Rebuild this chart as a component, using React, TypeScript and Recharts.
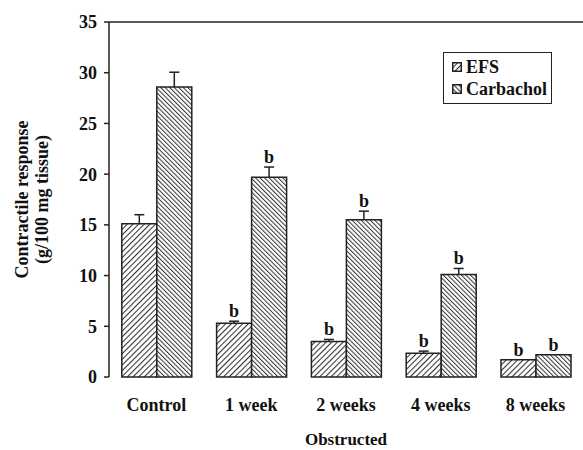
import React from 'react';
import { BarChart, Bar, XAxis, YAxis, ReferenceLine, LabelList, Legend } from 'recharts';

const categories = ['Control', '1 week', '2 weeks', '4 weeks', '8 weeks'];
const efsValues = [15.1, 5.3, 3.5, 2.35, 1.7];
const efsErrors = [0.9, 0.2, 0.2, 0.2, 0];
const carbacholValues = [28.6, 19.7, 15.5, 10.1, 2.2];
const carbacholErrors = [1.45, 1.0, 0.85, 0.6, 0];
const efsSig = ['', 'b', 'b', 'b', 'b'];
const carbacholSig = ['', 'b', 'b', 'b', 'b'];
const yTicks = [0, 5, 10, 15, 20, 25, 30, 35];
const boundaryTicks = [0, 1, 2, 3, 4, 5];

const data = categories.map((c, i) => ({
  name: c,
  efs: efsValues[i],
  efsErr: efsErrors[i],
  carb: carbacholValues[i],
  carbErr: carbacholErrors[i],
  efsSig: efsSig[i],
  carbSig: carbacholSig[i],
}));

const FONT = '"Liberation Serif", "Times New Roman", serif';
const INK = '#222';

const ErrShape = (props: any) => {
  const { x, y, width, height } = props;
  if (!height || height <= 0.5) return <g />;
  const cx = x + width / 2;
  return (
    <g>
      <line x1={cx} y1={y} x2={cx} y2={y + height} stroke={INK} strokeWidth={1.5} />
      <line x1={cx - 5} y1={y} x2={cx + 5} y2={y} stroke={INK} strokeWidth={1.5} />
    </g>
  );
};

const YLabel = (props: any) => {
  const vb = props.viewBox || {};
  const cy = vb.y + vb.height / 2;
  const x1 = 22;
  const x2 = 42;
  return (
    <g fontFamily={FONT} fontWeight="bold" fontSize={18} fill="#111">
      <text x={x1} y={cy} textAnchor="middle" dominantBaseline="central" transform={`rotate(-90, ${x1}, ${cy})`}>
        Contractile response
      </text>
      <text x={x2} y={cy} textAnchor="middle" dominantBaseline="central" transform={`rotate(-90, ${x2}, ${cy})`}>
        (g/100 mg tissue)
      </text>
    </g>
  );
};

const LegendBox = () => (
  <div
    style={{
      border: `1.5px solid ${INK}`,
      padding: '3px 4px 3px 8px',
      fontFamily: FONT,
      fontWeight: 'bold',
      fontSize: 18,
      color: '#111',
      background: '#fff',
      lineHeight: '22px',
    }}
  >
    {[
      { label: 'EFS', fill: 'url(#hatchEFSsmall)' },
      { label: 'Carbachol', fill: 'url(#hatchCarbSmall)' },
    ].map((it) => (
      <div key={it.label} style={{ display: 'flex', alignItems: 'center' }}>
        <svg width={10} height={10} style={{ marginRight: 4 }}>
          <rect x={0.75} y={0.75} width={8.5} height={8.5} fill={it.fill} stroke={INK} strokeWidth={1.5} />
        </svg>
        <span>{it.label}</span>
      </div>
    ))}
  </div>
);

export default function App() {
  return (
    <div style={{ position: 'absolute', left: 0, top: 0, width: 583, height: 450, background: '#fff' }}>
      <BarChart
        width={583}
        height={450}
        data={data}
        margin={{ top: 22, right: 0, left: 0, bottom: 0 }}
        barCategoryGap="13.5%"
        barGap={0}
      >
        <defs>
          <pattern id="hatchEFS" patternUnits="userSpaceOnUse" width={4} height={4} patternTransform="rotate(45)">
            <rect width={4} height={4} fill="#fff" />
            <line x1={0.5} y1={0} x2={0.5} y2={4} stroke="#333" strokeWidth={1.1} />
          </pattern>
          <pattern id="hatchCarb" patternUnits="userSpaceOnUse" width={3.2} height={3.2} patternTransform="rotate(-45)">
            <rect width={3.2} height={3.2} fill="#fff" />
            <line x1={0.5} y1={0} x2={0.5} y2={3.2} stroke="#333" strokeWidth={1} />
          </pattern>
        </defs>
        <ReferenceLine y={35} stroke={INK} strokeWidth={1.5} ifOverflow="extendDomain" />
        <XAxis
          xAxisId="bounds"
          type="number"
          domain={[0, 5]}
          ticks={boundaryTicks}
          height={0}
          tick={false}
          tickSize={5}
          axisLine={{ stroke: INK, strokeWidth: 1.5 }}
          tickLine={{ stroke: INK, strokeWidth: 1.5 }}
          allowDataOverflow
        />
        <XAxis
          dataKey="name"
          height={73}
          tickLine={false}
          axisLine={false}
          tickSize={0}
          tickMargin={21}
          tick={{ fontFamily: FONT, fontWeight: 'bold', fontSize: 18, fill: '#111' }}
          label={{
            value: 'Obstructed',
            position: 'insideBottom',
            offset: 5,
            style: { fontFamily: FONT, fontWeight: 'bold', fontSize: 17, fill: '#111' },
          }}
        />
        <YAxis
          width={109}
          domain={[0, 35]}
          ticks={yTicks}
          tickSize={5}
          tickMargin={7}
          interval={0}
          axisLine={{ stroke: INK, strokeWidth: 1.5 }}
          tickLine={{ stroke: INK, strokeWidth: 1.5 }}
          tick={{ fontFamily: FONT, fontWeight: 'bold', fontSize: 18, fill: '#111' }}
          label={{ content: <YLabel /> }}
        />
        <Legend
          layout="horizontal"
          align="center"
          verticalAlign="middle"
          wrapperStyle={{ position: 'absolute', left: 443, top: 52, width: 'auto' }}
          content={() => <LegendBox />}
        />
        <Bar dataKey="efs" name="EFS" stackId="e" fill="url(#hatchEFS)" stroke={INK} strokeWidth={1.5} isAnimationActive={false} />
        <Bar dataKey="efsErr" stackId="e" fill="none" stroke="none" legendType="none" shape={<ErrShape />} isAnimationActive={false}>
          <LabelList dataKey="efsSig" position="top" offset={4} style={{ fontFamily: FONT, fontWeight: 'bold', fontSize: 18, fill: '#111' }} />
        </Bar>
        <Bar dataKey="carb" name="Carbachol" stackId="c" fill="url(#hatchCarb)" stroke={INK} strokeWidth={1.5} isAnimationActive={false} />
        <Bar dataKey="carbErr" stackId="c" fill="none" stroke="none" legendType="none" shape={<ErrShape />} isAnimationActive={false}>
          <LabelList dataKey="carbSig" position="top" offset={4} style={{ fontFamily: FONT, fontWeight: 'bold', fontSize: 18, fill: '#111' }} />
        </Bar>
      </BarChart>
      <svg width={0} height={0} style={{ position: 'absolute' }}>
        <defs>
          <pattern id="hatchEFSsmall" patternUnits="userSpaceOnUse" width={4} height={4} patternTransform="rotate(45)">
            <rect width={4} height={4} fill="#fff" />
            <line x1={0.5} y1={0} x2={0.5} y2={4} stroke="#333" strokeWidth={1.2} />
          </pattern>
          <pattern id="hatchCarbSmall" patternUnits="userSpaceOnUse" width={3.5} height={3.5} patternTransform="rotate(-45)">
            <rect width={3.5} height={3.5} fill="#fff" />
            <line x1={0.5} y1={0} x2={0.5} y2={3.5} stroke="#333" strokeWidth={1.2} />
          </pattern>
        </defs>
      </svg>
    </div>
  );
}
